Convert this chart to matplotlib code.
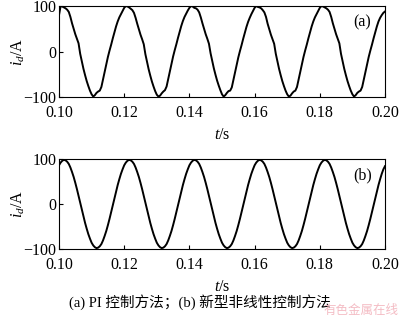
import numpy as np
from matplotlib import pyplot as plt

plt.rcParams['font.family'] = ['Liberation Serif', 'Noto Sans CJK SC']
plt.rcParams['mathtext.fontset'] = 'custom'
plt.rcParams['mathtext.rm'] = 'Liberation Serif'
plt.rcParams['mathtext.it'] = 'Liberation Serif:italic'

# time axis, 0.5 ms samples from 0.10 s to 0.20 s
t = np.linspace(0.10, 0.20, 201)

# (a) PI control, i_d
id_pi = [
    80, 100, 99, 97, 95, 92, 87, 76, 62, 50, 38, 28, 18, -5, -22, -38, -52, -65, -76, -86,
    -94, -99, -96, -91, -88, -86, -78, -62, -45, -28, -12, 2, 15, 29, 42, 55, 66, 75, 82, 89,
    96, 100, 99, 97, 94, 91, 85, 74, 61, 49, 37, 27, 16, -6, -23, -39, -53, -66, -77, -87,
    -95, -99, -97, -92, -88, -85, -77, -61, -44, -27, -11, 3, 16, 30, 43, 56, 67, 76, 83, 90,
    96, 100, 99, 96, 95, 92, 86, 75, 62, 50, 38, 28, 17, -4, -21, -37, -51, -64, -75, -85,
    -94, -99, -96, -91, -87, -86, -79, -63, -46, -29, -13, 1, 14, 28, 41, 54, 65, 74, 82, 89,
    96, 100, 98, 97, 95, 91, 86, 76, 61, 49, 37, 27, 17, -5, -22, -38, -52, -65, -76, -86,
    -94, -99, -97, -92, -88, -86, -78, -62, -45, -28, -12, 2, 15, 29, 42, 55, 66, 75, 82, 89,
    96, 100, 99, 97, 95, 92, 87, 76, 62, 50, 38, 28, 18, -5, -22, -38, -52, -65, -76, -86,
    -94, -99, -96, -91, -88, -86, -78, -62, -45, -28, -12, 2, 15, 29, 42, 55, 66, 74, 80, 85,
    88,
]

# (b) new nonlinear control
id_nl = [
    86, 92, 96, 98, 97, 94, 89, 81, 71, 60, 47, 33, 18, 3, -12, -27, -42, -55, -67, -77,
    -86, -92, -96, -98, -97, -94, -89, -81, -71, -60, -47, -33, -18, -3, 12, 27, 42, 55, 67, 77,
    86, 92, 96, 98, 97, 94, 89, 81, 71, 60, 47, 33, 18, 3, -12, -27, -42, -55, -67, -77,
    -86, -92, -96, -98, -97, -94, -89, -81, -71, -60, -47, -33, -18, -3, 12, 27, 42, 55, 67, 77,
    86, 92, 96, 98, 97, 94, 89, 81, 71, 60, 47, 33, 18, 3, -12, -27, -42, -55, -67, -77,
    -86, -92, -96, -98, -97, -94, -89, -81, -71, -60, -47, -33, -18, -3, 12, 27, 42, 55, 67, 77,
    86, 92, 96, 98, 97, 94, 89, 81, 71, 60, 47, 33, 18, 3, -12, -27, -42, -55, -67, -77,
    -86, -92, -96, -98, -97, -94, -89, -81, -71, -60, -47, -33, -18, -3, 12, 27, 42, 55, 67, 77,
    86, 92, 96, 98, 97, 94, 89, 81, 71, 60, 47, 33, 18, 3, -12, -27, -42, -55, -67, -77,
    -86, -92, -96, -98, -97, -94, -89, -81, -71, -60, -47, -33, -18, -3, 12, 27, 42, 55, 67, 77,
    84,
]

xticks = [0.10, 0.12, 0.14, 0.16, 0.18, 0.20]
yticks = [-100, 0, 100]
panel_tags = ['(a)', '(b)']
caption = '(a) PI 控制方法；(b) 新型非线性控制方法'
watermark = '有色金属在线'

fig = plt.figure(figsize=(4.0, 3.17), dpi=100)
ax_a = fig.add_axes([0.1475, 0.694, 0.815, 0.287])
ax_b = fig.add_axes([0.1475, 0.2145, 0.815, 0.284])

for ax, y, tag in zip([ax_a, ax_b], [id_pi, id_nl], panel_tags):
    ax.plot(t, y, color='black', lw=1.4)
    ax.set_xlim(0.10, 0.20)
    ax.set_ylim(-100, 100)
    ax.set_xticks(xticks)
    ax.set_xticklabels(['%.2f' % v for v in xticks])
    ax.set_yticks(yticks)
    ax.tick_params(direction='in', length=3, width=0.8, labelsize=11.5)
    ax.tick_params(axis='x', pad=6)
    ax.tick_params(axis='y', pad=2)
    for s in ax.spines.values():
        s.set_linewidth(0.8)
    ax.set_xlabel('$t$/s', fontsize=11.5, labelpad=4)
    ax.set_ylabel('$i_d$/A', fontsize=11.5, labelpad=-3)
    ax.text(0.93, 0.82, tag, transform=ax.transAxes, fontsize=11.5, ha='center', va='center')

fig.text(0.50, 0.048, caption, fontsize=10.5, ha='center', va='center',
         family=['Liberation Serif', 'Noto Sans CJK SC'])
fig.text(0.997, 0.02, watermark, fontsize=9, ha='right', va='center',
         color='#f4bcc4', family=['Noto Sans CJK SC'])

plt.savefig('out.png', dpi=100)
